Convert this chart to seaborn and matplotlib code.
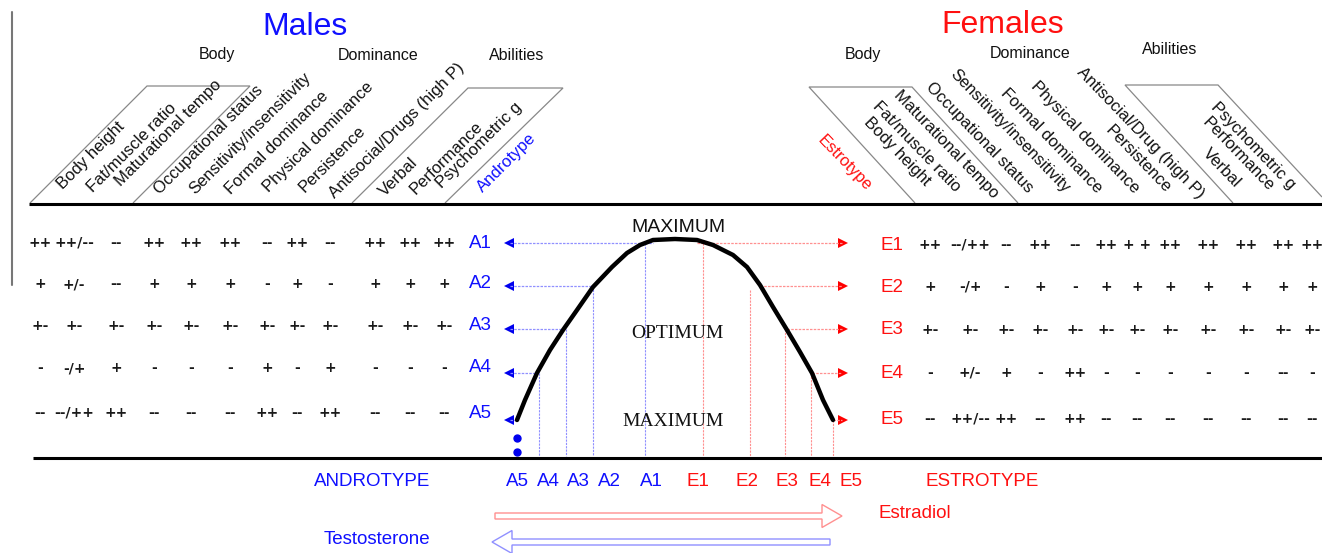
import matplotlib
matplotlib.use("Agg")
import matplotlib.pyplot as plt
from matplotlib.patches import FancyArrow, Polygon
import seaborn as sns
import pandas as pd

# ---------------- data ----------------
male_traits = ["Body height", "Fat/muscle ratio", "Maturational tempo", "Occupational status",
               "Sensitivity/insensitivity", "Formal dominance", "Physical dominance", "Persistence",
               "Antisocial/Drugs (high P)", "Verbal", "Performance", "Psychometric g"]
female_traits = ["Body height", "Fat/muscle ratio", "Maturational tempo", "Occupational status",
                 "Sensitivity/insensitivity", "Formal dominance", "Physical dominance", "Persistence",
                 "Antisocial/Drug (high P)", "Verbal", "Performance", "Psychometric g"]
group_labels = ["Body", "Dominance", "Abilities"]

male_levels = ["A1", "A2", "A3", "A4", "A5"]
female_levels = ["E1", "E2", "E3", "E4", "E5"]

a1_vals = ["++", "++/--", "--", "++", "++", "++", "--", "++", "--", "++", "++", "++"]
a2_vals = ["+", "+/-", "--", "+", "+", "+", "-", "+", "-", "+", "+", "+"]
a3_vals = ["+-", "+-", "+-", "+-", "+-", "+-", "+-", "+-", "+-", "+-", "+-", "+-"]
a4_vals = ["-", "-/+", "+", "-", "-", "-", "+", "-", "+", "-", "-", "-"]
a5_vals = ["--", "--/++", "++", "--", "--", "--", "++", "--", "++", "--", "--", "--"]

e1_vals = ["++", "--/++", "--", "++", "--", "++", "+ +", "++", "++", "++", "++", "++"]
e2_vals = ["+", "-/+", "-", "+", "-", "+", "+", "+", "+", "+", "+", "+"]
e3_vals = ["+-", "+-", "+-", "+-", "+-", "+-", "+-", "+-", "+-", "+-", "+-", "+-"]
e4_vals = ["-", "+/-", "+", "-", "++", "-", "-", "-", "-", "-", "--", "-"]
e5_vals = ["--", "++/--", "++", "--", "++", "--", "--", "--", "--", "--", "--", "--"]

axis_labels = ["A5", "A4", "A3", "A2", "A1", "E1", "E2", "E3", "E4", "E5"]

# inverted-U curve (trait level vs hormonal type)
curve_x = [517, 525, 537, 550, 563, 577, 593, 612, 627, 640, 653, 675, 697,
           713, 733, 747, 760, 773, 787, 800, 812, 823, 833]
curve_y = [420, 400, 373, 350, 330, 310, 287, 267, 253, 245, 240, 239, 240,
           245, 255, 267, 285, 307, 330, 352, 373, 400, 420]

# ---------------- layout (pixel space) ----------------
W, H = 1322, 553
sns.set_theme(style="white")
plt.rcParams["font.family"] = ["Liberation Sans", "DejaVu Sans"]

BLUE = "#1010ff"
RED = "#ff1010"
LBLUE = "#9090ff"
LRED = "#ff9090"
INK = "#111111"

fig = plt.figure(figsize=(W / 100, H / 100), dpi=100)
ax = fig.add_axes([0, 0, 1, 1])

# the curve (seaborn)
curve_df = pd.DataFrame({"x": curve_x, "y": curve_y})
sns.lineplot(data=curve_df, x="x", y="y", sort=False, color="black", lw=3.2, ax=ax,
             zorder=5)
ax.lines[-1].set_solid_joinstyle("round")
ax.lines[-1].set_solid_capstyle("round")

ax.set_xlim(0, W)
ax.set_ylim(H, 0)
ax.axis("off")

# left grey bar
ax.plot([12, 12], [12, 285], color="#777777", lw=1.5)

# titles
ax.text(305, 27, "Males", color=BLUE, fontsize=23, ha="center", va="center")
ax.text(1003, 25, "Females", color=RED, fontsize=23, ha="center", va="center")

male_group_x = [217, 378, 517]
male_group_y = [55, 55, 55]
female_group_x = [863, 1030, 1170]
female_group_y = [54, 53, 50]
for g, x, y in zip(group_labels, male_group_x, male_group_y):
    ax.text(x, y, g, fontsize=11.5, ha="center", va="center", color=INK)
for g, x, y in zip(group_labels, female_group_x, female_group_y):
    ax.text(x, y, g, fontsize=11.5, ha="center", va="center", color=INK)

# parallelogram frames
for pts in [[(30, 203), (147, 86), (250, 86), (133, 203)],
            [(352, 203), (468, 88), (563, 88), (445, 203)],
            [(915, 203), (809, 87), (912, 87), (1018, 203)],
            [(1233, 203), (1125, 85), (1218, 85), (1322, 197)]]:
    ax.add_patch(Polygon(pts, closed=False, fill=False, ec="#888888", lw=0.9))

# thick horizontal rules
ax.plot([29, W], [204, 204], color="black", lw=2.2, solid_capstyle="butt")
ax.plot([33, W], [458, 458], color="black", lw=2.2, solid_capstyle="butt")

# rotated trait labels
LAB_FS = 12
male_lab_x = [63, 93, 121, 160, 195, 231, 269, 305, 335, 385, 416, 442]
male_lab_y = [190, 193, 187, 195, 195, 195, 193, 193, 199, 197, 195, 189]
for t, x, y in zip(male_traits, male_lab_x, male_lab_y):
    ax.text(x, y, t, rotation=45, rotation_mode="anchor", ha="left", va="baseline",
            fontsize=LAB_FS, color=INK)
ax.text(483, 193, "Androtype", rotation=45, rotation_mode="anchor", ha="left",
        va="baseline", fontsize=LAB_FS, color=BLUE)

female_lab_x = [925, 955, 993, 1027, 1064, 1096, 1133, 1165, 1198, 1235, 1268, 1290]
female_lab_y = [186, 193, 199, 194, 194, 194, 194, 194, 199, 188, 192, 190]
for t, x, y in zip(female_traits, female_lab_x, female_lab_y):
    ax.text(x, y, t, rotation=-46, rotation_mode="anchor", ha="right", va="baseline",
            fontsize=LAB_FS, color=INK)
ax.text(866, 192, "Estrotype", rotation=-46, rotation_mode="anchor", ha="right",
        va="baseline", fontsize=LAB_FS, color=RED)

# value tables
male_col_x = [40, 74, 116, 154, 191, 230, 267, 297, 330, 375, 410, 444]
male_row_y = [243, 284, 326, 368, 413]
female_col_x = [930, 970, 1006, 1040, 1075, 1106, 1137, 1170, 1208, 1246, 1283, 1312]
female_row_y = [245, 287, 330, 373, 419]
VAL_KW = dict(fontsize=10, fontweight="bold", ha="center", va="center", color="#1a1a1a",
              family=["DejaVu Sans"])
for vals, y in zip([a1_vals, a2_vals, a3_vals, a4_vals, a5_vals], male_row_y):
    for v, x in zip(vals, male_col_x):
        ax.text(x, y, v, **VAL_KW)
for vals, y in zip([e1_vals, e2_vals, e3_vals, e4_vals, e5_vals], female_row_y):
    for v, x in zip(vals, female_col_x):
        ax.text(x, y, v, **VAL_KW)

for lab, y in zip(male_levels, male_row_y):
    ax.text(480, y, lab, fontsize=13.5, ha="center", va="center", color=BLUE)
for lab, y in zip(female_levels, female_row_y):
    ax.text(892, y, lab, fontsize=13.5, ha="center", va="center", color=RED)

# arrows from curve to the level labels
arrow_y = [243, 286, 329, 373, 420]
left_cross = [653, 593, 563, 537, 517]
right_cross = [697, 760, 787, 812, 833]
for y, xl, xr in zip(arrow_y, left_cross, right_cross):
    ax.plot([510, xl], [y, y], color=LBLUE, lw=0.9, ls=(0, (2, 1)))
    ax.plot([xr, 842], [y, y], color=LRED, lw=0.9, ls=(0, (2, 1)))
    ax.add_patch(Polygon([(504, y), (514, y - 5), (514, y + 5)], closed=True, fc="#0000ee", ec="none"))
    ax.add_patch(Polygon([(848, y), (838, y - 5), (838, y + 5)], closed=True, fc="#ff0000", ec="none"))

# vertical guides down to the axis
blue_vx = [539, 566, 593, 645]
blue_vtop = [373, 329, 286, 243]
red_vx = [703, 750, 785, 811, 833]
red_vtop = [243, 290, 329, 373, 420]
for x, y0 in zip(blue_vx, blue_vtop):
    ax.plot([x, x], [y0, 456], color=LBLUE, lw=0.8, ls=(0, (2, 1)))
for x, y0 in zip(red_vx, red_vtop):
    ax.plot([x, x], [y0, 456], color=LRED, lw=0.8, ls=(0, (2, 1)))

ax.text(678, 228, "MAXIMUM", fontsize=14, ha="center", va="center", color=INK)
ax.text(677, 334, "OPTIMUM", fontsize=14, ha="center", va="center", color=INK,
        family="Liberation Serif")
ax.text(673, 422, "MAXIMUM", fontsize=14, ha="center", va="center", color=INK,
        family="Liberation Serif")

# blue dots
ax.plot([517, 517], [438, 452], ls="none", marker="o", ms=5, color="#0000ee")

# bottom axis labels
axis_x = [517, 548, 578, 609, 651, 698, 747, 787, 820, 851]
for lab, x in zip(axis_labels, axis_x):
    ax.text(x, 482, lab, fontsize=13.5, ha="center", va="center",
            color=BLUE if lab.startswith("A") else RED)
ax.text(372, 482, "ANDROTYPE", fontsize=13.5, ha="center", va="center", color=BLUE)
ax.text(982, 482, "ESTROTYPE", fontsize=13.5, ha="center", va="center", color=RED)

# hollow hormone arrows
ax.add_patch(FancyArrow(495, 516, 347, 0, width=6, head_width=23, head_length=20,
                        length_includes_head=True, fill=False, ec=LRED, lw=1))
ax.text(915, 514, "Estradiol", fontsize=13.5, ha="center", va="center", color=RED)
ax.add_patch(FancyArrow(830, 542, -338, 0, width=6, head_width=23, head_length=20,
                        length_includes_head=True, fill=False, ec=LBLUE, lw=1))
ax.text(377, 540, "Testosterone", fontsize=13.5, ha="center", va="center", color=BLUE)

fig.savefig("out.png", dpi=100)
